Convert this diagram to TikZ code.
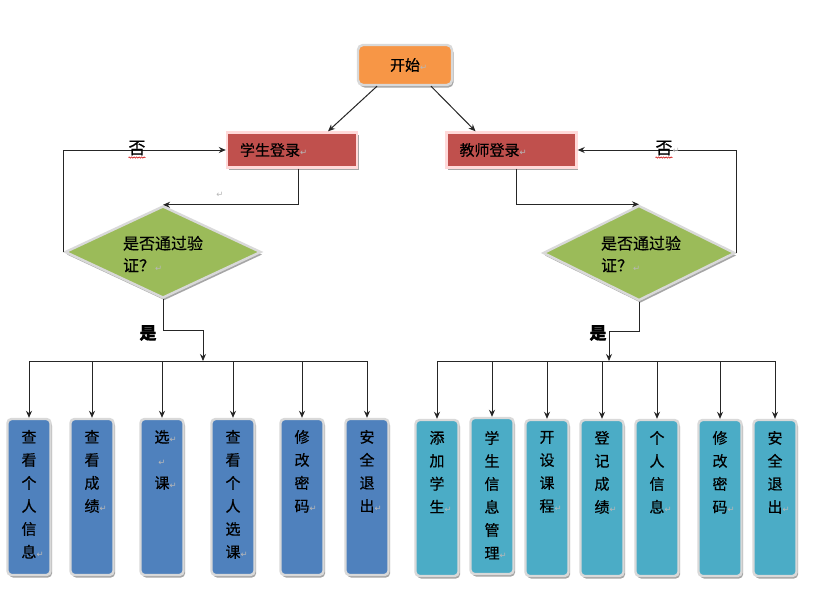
\documentclass[tikz,border=0pt]{standalone}
\usepackage{fontspec}
\setmainfont{Noto Sans CJK SC}[FakeBold=0.5]
\newfontfamily\markfont{DejaVu Sans}
\usetikzlibrary{shapes.geometric,shadows,arrows.meta,decorations.pathmorphing}
\definecolor{startorange}{HTML}{F79646}
\definecolor{loginred}{HTML}{C0504D}
\definecolor{checkgreen}{HTML}{9BBB59}
\definecolor{stublue}{HTML}{4F81BD}
\definecolor{teacyan}{HTML}{4BACC6}
% paragraph mark
\newcommand\pmk{{\markfont\fontsize{8.5}{8.5}\selectfont\color{black!28}↵}}
\begin{document}
\begin{tikzpicture}[x=1pt,y=-1pt,
  boxframe/.style={draw=white!85!black, line width=2.4pt, inner sep=0pt,
    drop shadow={shadow xshift=1.5pt, shadow yshift=-2.5pt, opacity=0.35, fill=black}},
  startbox/.style={boxframe, fill=startorange, rounded corners=5pt,
    minimum width=94pt, minimum height=40pt, font=\fontsize{15}{17}\selectfont},
  loginbox/.style={boxframe, fill=loginred, draw=white!85!red, minimum width=130pt,
    minimum height=35pt, text width=104pt, align=left, font=\fontsize{15}{17}\selectfont},
  checkbox/.style={boxframe, diamond, fill=checkgreen},
  stubox/.style={boxframe, fill=stublue, rounded corners=4pt,
    minimum width=43pt, minimum height=156pt},
  teabox/.style={stubox, fill=teacyan},
  vtext/.style={anchor=north, align=center, inner sep=0pt,
    font=\fontsize{15}{23}\selectfont},
  dtext/.style={align=left, inner sep=0pt, font=\fontsize{16}{22}\selectfont},
  yesno/.style={inner sep=0pt, font=\fontsize{17}{18}\selectfont},
  arr/.style={-{Stealth[length=7pt,width=6pt]}, line width=1pt, black!85},
  ln/.style={line width=1pt, black!85},
  squiggle/.style={red!80!black, line width=0.5pt, decorate,
    decoration={snake, amplitude=0.7pt, segment length=2.5pt}},
]
\useasboundingbox (0,0) rectangle (826,608);
\fill[white] (0,0) rectangle (826,608);

% start and login boxes
\node[startbox] (start) at (405,65) {开始\rlap{\pmk}};
\node[loginbox] (stu) at (292,150) {学生登录\pmk};
\node[loginbox] (tea) at (511.5,150) {教师登录\pmk};

\draw[arr] ([xshift=-28pt]start.south) -- ([xshift=36pt]stu.north);
\draw[arr] ([xshift=26pt]start.south) -- ([xshift=-36pt]tea.north);

% verification diamonds
\node[checkbox, minimum width=196pt, minimum height=92pt] (dL) at (163,252) {};
\node[checkbox, minimum width=192pt, minimum height=95pt] (dR) at (639,253) {};
\node[dtext] (dLt) at (163,254) {是否通过验\\证？\pmk};
\node[dtext] (dRt) at (641,254) {是否通过验\\证？\pmk};

% login -> check
\draw[arr] ([xshift=6pt]stu.south) |- (dL.north);
\draw[arr] ([xshift=4.5pt]tea.south) |- (dR.north);
\node[inner sep=0pt] (pm1) at (220,195) {\pmk};

% failed checks loop back
\draw[arr] (dL.west) -- (dL.west |- stu.west) -- (stu.west);
\draw[arr] (dR.east) -- (dR.east |- tea.east) -- (tea.east);
\node[yesno] (no1) at (137,148) {否};
\node[yesno] (no2) at (664,148) {否\rlap{\pmk}};
\draw[squiggle] ([yshift=-2pt]no1.south west) -- ([yshift=-2pt]no1.south east);
\draw[squiggle] ([yshift=-2pt]no2.south west) -- ([yshift=-2pt]no2.south east);

% student functions
\node[stubox] (s1) at (29,497) {};
\node[stubox] (s2) at (92,497) {};
\node[stubox] (s3) at (162,497) {};
\node[stubox] (s4) at (233,497) {};
\node[stubox] (s5) at (302,497) {};
\node[stubox] (s6) at (367,497) {};
\node[vtext] (t1) at ([yshift=-12pt]s1.north) {查\\看\\个\\人\\信\\息\rlap{\pmk}};
\node[vtext] (t2) at ([yshift=-12pt]s2.north) {查\\看\\成\\绩\rlap{\pmk}};
\node[vtext] (t3) at ([yshift=-12pt]s3.north) {选\rlap{\pmk}\\\pmk\\课\rlap{\pmk}};
\node[vtext] (t4) at ([yshift=-12pt]s4.north) {查\\看\\个\\人\\选\\课\rlap{\pmk}};
\node[vtext] (t5) at ([yshift=-12pt]s5.north) {修\\改\\密\\码\rlap{\pmk}};
\node[vtext] (t6) at ([yshift=-12pt]s6.north) {安\\全\\退\\出\rlap{\pmk}};

% teacher functions
\node[teabox] (r1) at (437,498) {};
\node[teabox] (r2) at (492,496) {};
\node[teabox] (r3) at (547,498) {};
\node[teabox] (r4) at (602,498) {};
\node[teabox] (r5) at (657,498) {};
\node[teabox] (r6) at (720,498) {};
\node[teabox] (r7) at (775,498) {};
\node[vtext] (u1) at ([yshift=-12pt]r1.north) {添\\加\\学\\生\rlap{\pmk}};
\node[vtext] (u2) at ([yshift=-14pt]r2.north) {学\\生\\信\\息\\管\\理\rlap{\pmk}};
\node[vtext] (u3) at ([yshift=-12pt]r3.north) {开\\设\\课\\程\rlap{\pmk}};
\node[vtext] (u4) at ([yshift=-12pt]r4.north) {登\\记\\成\\绩\rlap{\pmk}};
\node[vtext] (u5) at ([yshift=-12pt]r5.north) {个\\人\\信\\息\rlap{\pmk}};
\node[vtext] (u6) at ([yshift=-12pt]r6.north) {修\\改\\密\\码\rlap{\pmk}};
\node[vtext] (u7) at ([yshift=-12pt]r7.north) {安\\全\\退\\出\rlap{\pmk}};

% passed checks -> distribution buses
\coordinate (jL) at (203,361);
\coordinate (jR) at (609,361);
\draw[arr] (dL.south) -- ++(0,31) -| (jL);
\draw[arr] (dR.south) -- ++(0,30) -| (jR);
\node[yesno, font=\fontsize{17}{18}\selectfont\bfseries] (yes1) at (148,333) {是};
\node[yesno, font=\fontsize{17}{18}\selectfont\bfseries] (yes2) at (598,333) {是};

\draw[ln] (s1.north |- jL) -- (s6.north |- jL);
\draw[ln] (r1.north |- jR) -- (r7.north |- jR);
\foreach \b in {s1,s2,s3,s4,s5,s6,r1,r2,r3,r4,r5,r6,r7}
  \draw[arr] (\b.north |- jL) -- (\b.north);
\end{tikzpicture}
\end{document}
